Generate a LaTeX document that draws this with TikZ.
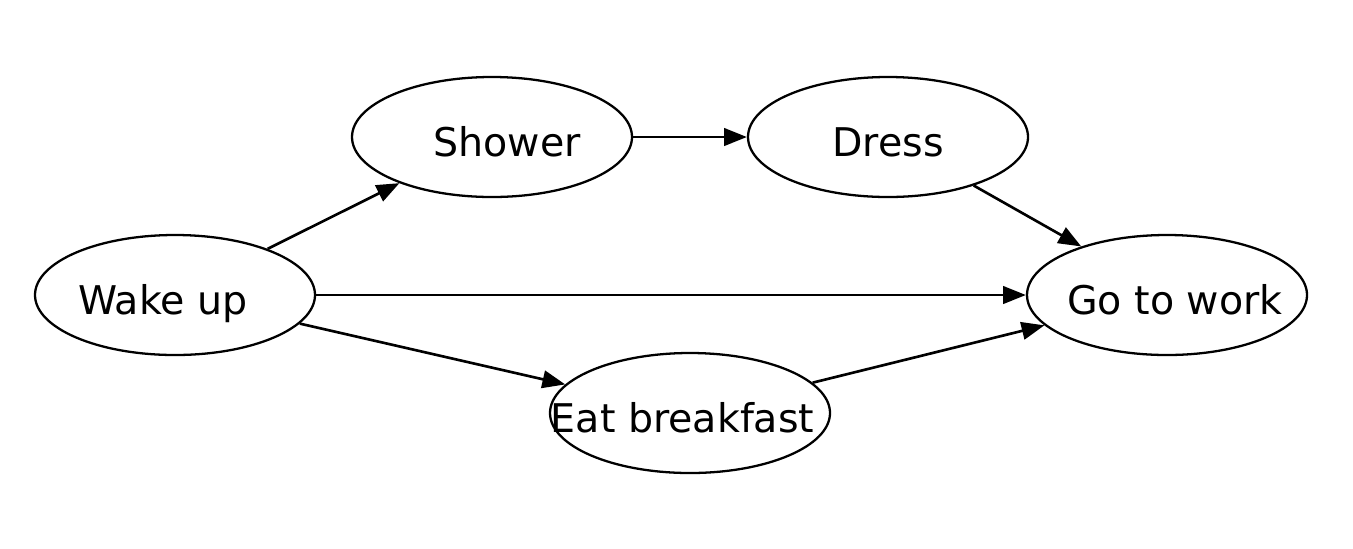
\documentclass[tikz,border=0pt]{standalone}
\usepackage{fontspec}
\setmainfont{DejaVu Sans}
\usetikzlibrary{shapes.geometric,arrows.meta}
\begin{document}
\begin{tikzpicture}[
		task/.style={draw, black, line width=1.3pt, ellipse, minimum width=5.6cm, minimum height=2.4cm, inner xsep=-28pt, inner ysep=0pt, text height=22pt, text depth=0pt, font=\fontsize{22.5}{26}\selectfont},
		link/.style={black, line width=1.5pt, -{Triangle[length=13pt, width=10pt]}}
	]
		\useasboundingbox (0,0) rectangle (27.06,-10.96);

		\node[task] (wake) at (3.5,-5.9) {Wake up\kern0.48cm};
		\node[task] (shower) at (9.84,-2.74) {\hspace{0.6cm}Shower};
		\node[task] (dress) at (17.76,-2.74) {Dress};
		\node[task] (work) at (23.34,-5.9) {\hspace{0.32cm}Go to work};
		\node[task] (breakfast) at (13.8,-8.26) {Eat breakfast\kern0.3cm};

		\draw[link] (wake) -- (shower);
		\draw[link] (shower) -- (dress);
		\draw[link] (dress) -- (work);
		\draw[link] (wake) -- (work);
		\draw[link] (wake) -- (breakfast);
		\draw[link] (breakfast) -- (work);
	\end{tikzpicture}
\end{document}
